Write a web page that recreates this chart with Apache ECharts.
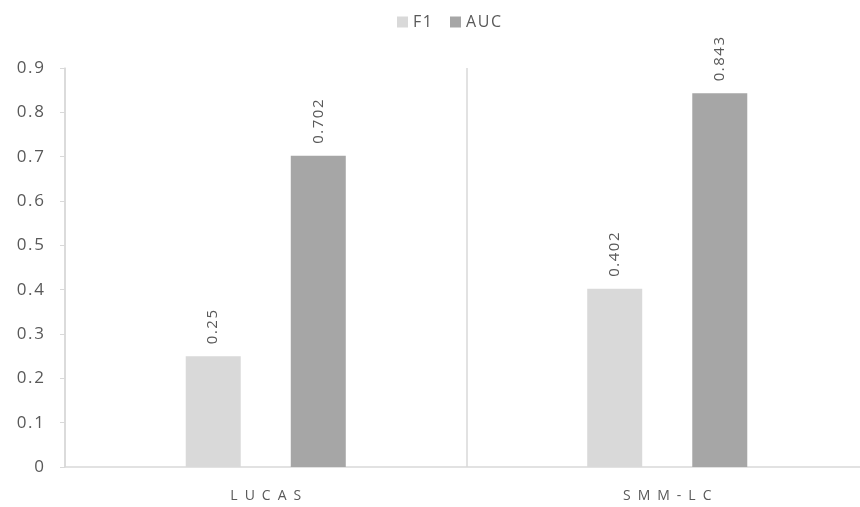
<!DOCTYPE html>
<html>
<head>
<meta charset="utf-8">
<script src="https://cdn.jsdelivr.net/npm/echarts@6/dist/echarts.min.js"></script>
<style>
  html, body { margin: 0; padding: 0; background: #ffffff; }
  #chart { width: 860px; height: 507px; }
</style>
</head>
<body>
<div id="chart"></div>
<script>
// Dataset names and scores
const categories = ['LUCAS', 'SMM-LC'];
const f1Values = [0.25, 0.402];
const aucValues = [0.702, 0.843];
const yTicks = { min: 0, max: 0.9, interval: 0.1 };

const FONT = '"Open Sans", Lato, sans-serif';
const TEXT = '#595959';
const LINE = '#d9d9d9';

const chart = echarts.init(document.getElementById('chart'), null, { renderer: 'canvas' });

// widen text a little by putting a small space between characters
function spaced(s, gap) {
  return String(s).split('').join(gap);
}

const valueLabel = {
  show: true,
  position: 'top',
  rotate: 90,
  align: 'left',
  verticalAlign: 'middle',
  distance: 12,
  color: TEXT,
  fontFamily: FONT,
  fontSize: 15,
  formatter: p => spaced(p.value, '\u200a')
};

chart.setOption({
  animation: false,
  backgroundColor: '#ffffff',
  legend: {
    top: 9,
    left: 392,
    itemWidth: 11,
    itemHeight: 11,
    itemGap: 18,
    icon: 'rect',
    textStyle: { color: TEXT, fontFamily: FONT, fontSize: 16 },
    formatter: name => spaced(name, '\u200a'),
    data: ['F1', 'AUC']
  },
  // the plot runs a little past the right edge of the canvas
  grid: {
    left: 65, width: 803, top: 68, bottom: 40,
    containLabel: false, outerBoundsMode: 'none'
  },
  xAxis: {
    type: 'category',
    data: categories,
    axisLine: { show: true, lineStyle: { color: LINE, width: 1.5 } },
    axisTick: { show: false },
    splitLine: { show: true, lineStyle: { color: LINE, width: 1.5 } },
    axisLabel: {
      color: TEXT, fontFamily: FONT, fontSize: 14, margin: 22,
      formatter: v => spaced(v, '\u2002')
    }
  },
  yAxis: {
    type: 'value',
    min: yTicks.min,
    max: yTicks.max,
    interval: yTicks.interval,
    axisLine: { show: true, lineStyle: { color: LINE, width: 1.5 } },
    axisTick: { show: true, inside: false, length: 5, lineStyle: { color: LINE } },
    splitLine: { show: false },
    axisLabel: {
      color: TEXT, fontFamily: FONT, fontSize: 17, margin: 21,
      formatter: v => spaced((Math.round(v * 10) / 10).toString(), '\u200a')
    }
  },
  series: [
    {
      name: 'F1',
      type: 'bar',
      data: f1Values,
      barWidth: 55,
      barGap: '91%',
      itemStyle: { color: '#d9d9d9' },
      label: valueLabel
    },
    {
      name: 'AUC',
      type: 'bar',
      data: aucValues,
      barWidth: 55,
      itemStyle: { color: '#a6a6a6' },
      label: valueLabel
    }
  ]
});
</script>
</body>
</html>
